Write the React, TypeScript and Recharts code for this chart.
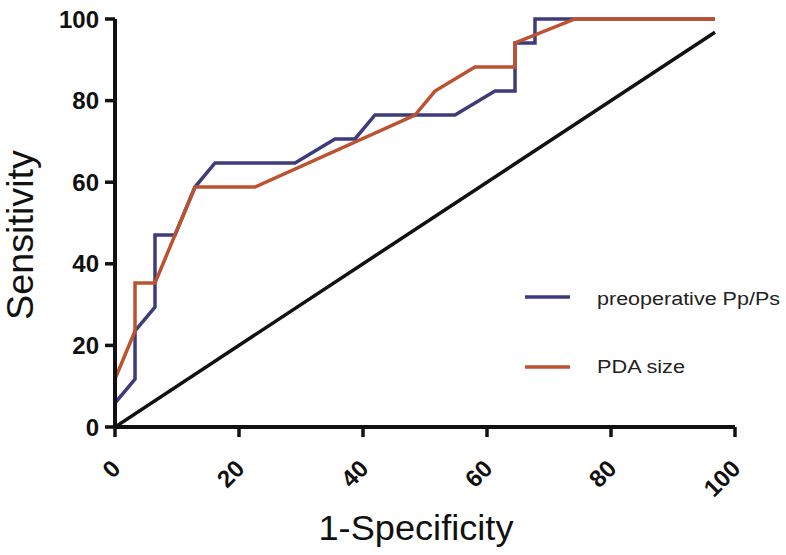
import React from "react";
import { LineChart, Line, XAxis, YAxis, Legend } from "recharts";

// 1-specificity (%) and sensitivity (%)
const ppX = [0, 3.23, 3.23, 6.45, 6.45, 9.68, 12.9, 16.13, 29.03, 35.48, 38.71, 41.94, 54.84, 61.29, 64.52, 64.52, 67.74, 67.74, 96.77];
const ppY = [5.88, 11.76, 23.53, 29.41, 47.06, 47.06, 58.82, 64.71, 64.71, 70.59, 70.59, 76.47, 76.47, 82.35, 82.35, 94.12, 94.12, 100, 100];

const pdaX = [0, 3.23, 3.23, 6.45, 12.9, 22.58, 48.39, 51.61, 58.06, 64.52, 64.52, 74.19, 96.77];
const pdaY = [11.76, 23.53, 35.29, 35.29, 58.82, 58.82, 76.47, 82.35, 88.24, 88.24, 94.12, 100, 100];

const refX = [0, 96.77];
const refY = [0, 96.77];

const xTicks = [0, 20, 40, 60, 80, 100];
const yTicks = [0, 20, 40, 60, 80, 100];

const BLUE = "#3e3b7b";
const ORANGE = "#bd5230";
const FONT = "'Liberation Sans', Arial, sans-serif";

const toPoints = (xs: number[], ys: number[]) => xs.map((x, i) => ({ x, y: ys[i] }));

const ppData = toPoints(ppX, ppY);
const pdaData = toPoints(pdaX, pdaY);
const refData = toPoints(refX, refY);

const XTick = (props: any) => {
    const { x, y, payload } = props;
    const ax = x + 7;
    const ay = y + 31;
    return (
        <text
            x={ax}
            y={ay}
            transform={`rotate(-45, ${ax}, ${ay})`}
            textAnchor="end"
            fontFamily={FONT}
            fontWeight="bold"
            fontSize={24}
            fill="#111"
        >
            {payload.value}
        </text>
    );
};

const Titles = () => (
    <g>
        <text x={416} y={540} textAnchor="middle" fontFamily={FONT} fontSize={35} fill="#111" textLength={195} lengthAdjust="spacingAndGlyphs">
            1-Specificity
        </text>
        <text
            x={33}
            y={235}
            transform="rotate(-90, 33, 235)"
            textAnchor="middle"
            fontFamily={FONT}
            fontSize={36}
            fill="#111"
            textLength={170}
            lengthAdjust="spacingAndGlyphs"
        >
            Sensitivity
        </text>
    </g>
);

const renderLegend = () => (
    <svg width={270} height={110} style={{ display: "block" }}>
        <line x1={5} y1={17} x2={50} y2={17} stroke={BLUE} strokeWidth={3.5} />
        <text x={77} y={25} fontFamily={FONT} fontSize={18} fill="#222" textLength={183} lengthAdjust="spacingAndGlyphs">
            preoperative Pp/Ps
        </text>
        <line x1={5} y1={87} x2={50} y2={87} stroke={ORANGE} strokeWidth={3.5} />
        <text x={77} y={93} fontFamily={FONT} fontSize={18} fill="#222" textLength={88} lengthAdjust="spacingAndGlyphs">
            PDA size
        </text>
    </svg>
);

export default function App() {
    return (
        <div style={{ position: "absolute", left: 0, top: 0, width: 786, height: 555, background: "#fff" }}>
            <LineChart width={786} height={555} margin={{ top: 19, right: 51, left: 55, bottom: 68 }}>
                <XAxis
                    type="number"
                    dataKey="x"
                    domain={[0, 100]}
                    ticks={xTicks}
                    allowDataOverflow
                    height={60}
                    axisLine={{ stroke: "#111", strokeWidth: 4 }}
                    tickLine={{ stroke: "#111", strokeWidth: 3.5 }}
                    tickSize={10}
                    tick={<XTick />}
                    label={{ content: () => <Titles /> }}
                />
                <YAxis
                    type="number"
                    dataKey="y"
                    domain={[0, 100]}
                    ticks={yTicks}
                    width={60}
                    axisLine={{ stroke: "#111", strokeWidth: 4 }}
                    tickLine={{ stroke: "#111", strokeWidth: 3.5 }}
                    tickSize={10}
                    tickMargin={6}
                    tick={{ fontFamily: FONT, fontWeight: "bold", fontSize: 24, fill: "#111" }}
                />
                <Legend
                    layout="horizontal"
                    verticalAlign="middle"
                    align="center"
                    content={renderLegend}
                    wrapperStyle={{ left: 520, top: 280, width: 270 }}
                />
                <Line data={refData} dataKey="y" type="linear" stroke="#111" strokeWidth={3.5} dot={false} isAnimationActive={false} legendType="none" />
                <Line data={ppData} dataKey="y" name="preoperative Pp/Ps" type="linear" stroke={BLUE} strokeWidth={3.5} dot={false} isAnimationActive={false} />
                <Line data={pdaData} dataKey="y" name="PDA size" type="linear" stroke={ORANGE} strokeWidth={3.5} dot={false} isAnimationActive={false} />
            </LineChart>
        </div>
    );
}
